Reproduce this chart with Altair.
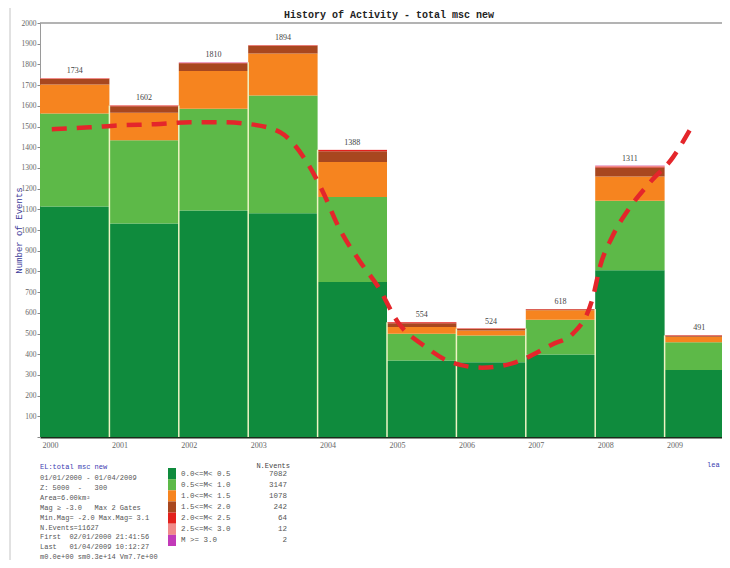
import altair as alt
import pandas as pd

# ---------------- data ----------------
years = [2000, 2001, 2002, 2003, 2004, 2005, 2006, 2007, 2008, 2009]
totals = [1734, 1602, 1810, 1894, 1388, 554, 524, 618, 1311, 491]
m00_05 = [1114, 1032, 1094, 1081, 749, 369, 361, 398, 806, 324]
m05_10 = [449, 401, 492, 569, 411, 130, 129, 168, 335, 134]
m10_15 = [140, 133, 182, 203, 169, 32, 25, 46, 118, 26]
m15_20 = [26, 32, 38, 37, 51, 19, 7, 4, 43, 5]
m20_25 = [3, 3, 1, 2, 6, 4, 2, 2, 5, 2]
m25_30 = [2, 1, 2, 2, 2, 0, 0, 0, 3, 0]
m30_up = [0, 0, 1, 0, 0, 0, 0, 0, 1, 0]

classes = ["0.0<=M< 0.5", "0.5<=M< 1.0", "1.0<=M< 1.5", "1.5<=M< 2.0",
           "2.0<=M< 2.5", "2.5<=M< 3.0", "M >= 3.0"]
class_counts = [7082, 3147, 1078, 242, 64, 12, 2]
colors = ["#0f8b3d", "#5db948", "#f6841f", "#a8471f", "#e3211d", "#f08a8a", "#c23ab8"]

curve_x = [2000.17, 2000.72, 2001.15, 2001.66, 2002.16, 2002.59, 2003.03, 2003.46,
           2003.82, 2004.06, 2004.32, 2004.61, 2004.87, 2005.16, 2005.55, 2005.94,
           2006.37, 2006.84, 2007.38, 2007.68, 2007.97, 2008.07, 2008.24, 2008.50,
           2008.79, 2009.12, 2009.37]
curve_y = [1487, 1496, 1506, 1511, 1521, 1521, 1511, 1472,
           1341, 1196, 1003, 848, 727, 553, 437, 359,
           335, 359, 447, 500, 679, 824, 964, 1109,
           1230, 1351, 1487]

y_ticks = list(range(0, 2001, 100))

NB = "\u00a0"
title_text = "History of Activity - total msc new"
y_title = "Number of Events"
info_head = "EL:total msc new"
info_lines = ["01/01/2000 - 01/04/2009",
              "Z: 5000" + NB * 2 + "-" + NB * 3 + "300",
              "Area=6.00km\u00b2",
              "Mag \u2265 -3.0" + NB * 3 + "Max 2 Gates",
              "Min.Mag= -2.0 Max.Mag= 3.1",
              "N.Events=11627",
              "First" + NB * 2 + "02/01/2000 21:41:56",
              "Last" + NB * 3 + "01/04/2009 10:12:27",
              "m0.0e+00 sm0.3e+14 Vm7.7e+00"]

# ---------------- tables ----------------
series = [m00_05, m05_10, m10_15, m15_20, m20_25, m25_30, m30_up]
rows = []
for i, yr in enumerate(years):
    for k, arr in enumerate(series):
        rows.append({"year": yr, "year_end": yr + 1, "k": k, "cls": classes[k], "count": arr[i]})
bars_df = pd.DataFrame(rows)

tot_df = pd.DataFrame({"mid": [y + 0.5 for y in years], "total": totals})
sep_df = pd.DataFrame({"bx": years[1:],
                       "b0": [0] * (len(years) - 1),
                       "btop": [min(totals[i - 1], totals[i]) for i in range(1, len(years))]})
curve_df = pd.DataFrame({"cx": curve_x, "cy": curve_y})
leg_df = pd.DataFrame({"k": list(range(7)), "k1": [k + 1 for k in range(7)],
                       "kc": [k + 0.5 for k in range(7)], "cls": classes, "n": class_counts})
one = pd.DataFrame({"a": [0]})

x_scale = alt.Scale(domain=[2000, 2009.827], nice=False, zero=False)
y_scale = alt.Scale(domain=[0, 2000], nice=False)
color_scale = alt.Scale(domain=classes, range=colors)

SERIF = "Liberation Serif"
MONO = "Liberation Mono"

x_axis = alt.Axis(values=years, format="d", title=None, grid=False, tickSize=0,
                  labelAlign="left", labelBaseline="top", labelPadding=4, labelOffset=2,
                  labelFlush=False, labelOverlap=False, labelFont=SERIF,
                  labelFontSize=8, labelColor="#666666",
                  domainColor="#1b2b1b", domainWidth=2)
y_axis = alt.Axis(values=y_ticks, format="d", grid=False,
                  labelExpr="datum.value == 0 ? '' : datum.label",
                  labelOverlap=False, labelFlush=False,
                  tickSize=3, tickColor="#888888", labelPadding=1,
                  labelFont=SERIF, labelFontSize=7.5, labelColor="#666666",
                  domainColor="#9a9a9a", domainWidth=1,
                  title=y_title, titleFont=MONO, titleFontSize=9,
                  titleFontWeight="normal", titleColor="#3b3b9a",
                  titleX=-22, titleY=207, titleAngle=270,
                  titleAlign="center", titleBaseline="middle")

bars = alt.Chart(bars_df).transform_stack(
    stack="count", groupby=["year"], as_=["y0", "y1"],
    sort=[alt.SortField("k", order="ascending")]
).mark_bar(clip=True, strokeWidth=0).encode(
    x=alt.X("year:Q", scale=x_scale, axis=x_axis),
    x2="year_end:Q",
    y=alt.Y("y0:Q", scale=y_scale, axis=y_axis),
    y2="y1:Q",
    color=alt.Color("cls:N", scale=color_scale, legend=None),
)

seps = alt.Chart(sep_df).mark_rule(color="#eef4c4", strokeWidth=1.5).encode(
    x=alt.X("bx:Q", scale=x_scale, axis=x_axis),
    y=alt.Y("b0:Q", scale=y_scale, axis=y_axis), y2="btop:Q")

labels = alt.Chart(tot_df).mark_text(baseline="bottom", dy=-3, font=SERIF, fontSize=8,
                                     color="#444444").encode(
    x=alt.X("mid:Q", scale=x_scale, axis=x_axis),
    y=alt.Y("total:Q", scale=y_scale, axis=y_axis), text="total:Q")

curve = alt.Chart(curve_df).mark_line(color="#e4262b", strokeWidth=4.5, strokeDash=[15, 10],
                                      interpolate="monotone", strokeCap="butt").encode(
    x=alt.X("cx:Q", scale=x_scale, axis=x_axis), y=alt.Y("cy:Q", scale=y_scale, axis=y_axis))

top_rule = alt.Chart(one).mark_rule(color="#9a9a9a", strokeWidth=1.5).encode(
    y=alt.datum(2000, scale=y_scale, axis=y_axis))

left_frame = alt.Chart(one).mark_rule(color="#c4c4c4", strokeWidth=1).encode(
    x=alt.value(-30), y=alt.value(-15), y2=alt.value(545))

title = alt.Chart(one).mark_text(text=title_text, font=MONO, fontSize=10, fontWeight="bold",
                                 color="#222222", align="center", baseline="middle").encode(
    x=alt.value(349), y=alt.value(-8))

info_h = alt.Chart(one).mark_text(text=info_head, font=MONO, fontSize=7, color="#3b3bb0",
                                  align="left", baseline="middle").encode(
    x=alt.value(0), y=alt.value(444))

info_b = alt.Chart(one).mark_text(text=info_lines, font=MONO, fontSize=7, color="#555555",
                                  align="left", baseline="top", lineHeight=9.9).encode(
    x=alt.value(0), y=alt.value(451))

nev = alt.Chart(one).mark_text(text="N.Events", font=MONO, fontSize=7, color="#444444",
                               align="right", baseline="middle").encode(
    x=alt.value(250), y=alt.value(443))

lea = alt.Chart(one).mark_text(text="lea", font=MONO, fontSize=7, color="#3b3bb0",
                               align="left", baseline="middle").encode(
    x=alt.value(667), y=alt.value(442))

main = alt.layer(bars, seps, curve, labels, top_rule, left_frame, title, info_h, info_b, nev, lea)

leg_scale = alt.Scale(domain=[0, 7], range=[445, 523], nice=False, zero=False)
sw = alt.Chart(leg_df).mark_rect().encode(
    x=alt.value(128), x2=alt.value(136),
    y=alt.Y("k:Q", scale=leg_scale, axis=None), y2="k1:Q",
    color=alt.Color("cls:N", scale=color_scale, legend=None))
leg_lab = alt.Chart(leg_df).mark_text(font=MONO, fontSize=7.5, color="#555555", align="left",
                                      baseline="middle").encode(
    x=alt.value(141), y=alt.Y("kc:Q", scale=leg_scale, axis=None), text="cls:N")
leg_n = alt.Chart(leg_df).mark_text(font=MONO, fontSize=7.5, color="#555555", align="right",
                                    baseline="middle").encode(
    x=alt.value(247), y=alt.Y("kc:Q", scale=leg_scale, axis=None), text="n:Q")
legend = alt.layer(sw, leg_lab, leg_n)

chart = alt.layer(main, legend).resolve_scale(y="independent").properties(
    width=682, height=414,
    autosize=alt.AutoSizeParams(type="none"),
    padding={"left": 32, "top": 15, "right": 0, "bottom": 123},
    background="white",
).configure_view(strokeWidth=0)

chart.save("out.html", embed_options={"renderer": "svg", "actions": False})
